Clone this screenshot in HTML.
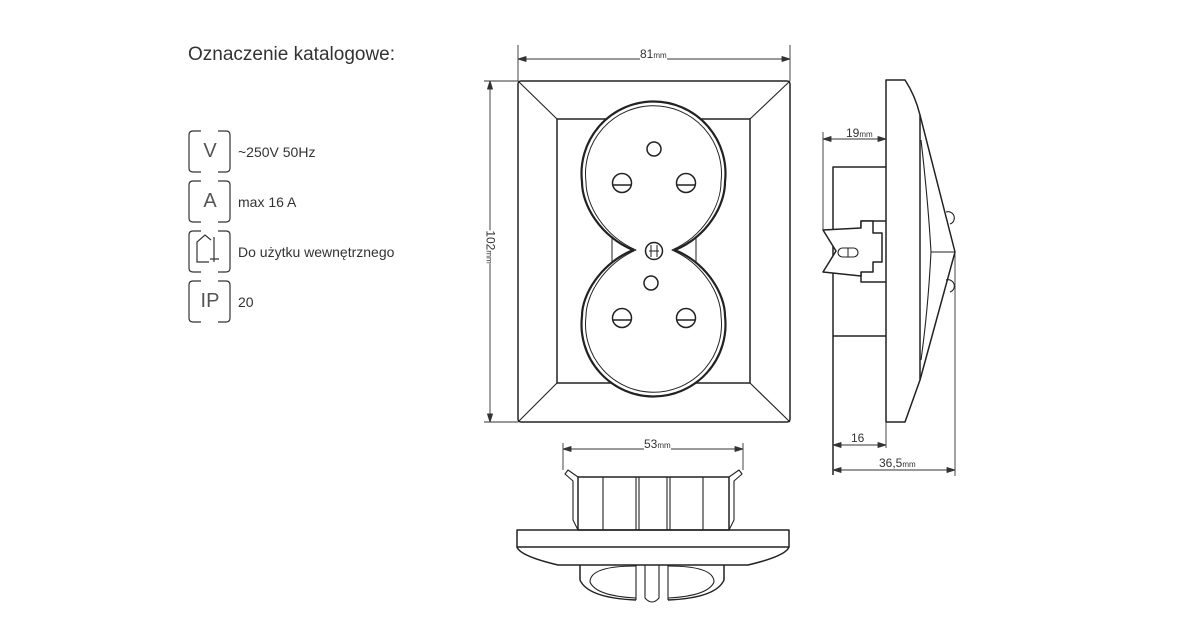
<!DOCTYPE html>
<html><head><meta charset="utf-8"><style>
html,body{margin:0;padding:0;background:#fff;}
body{width:1200px;height:630px;overflow:hidden;position:relative;font-family:"Liberation Sans",sans-serif;color:#333;}
.t{position:absolute;white-space:nowrap;}
</style></head><body>
<svg width="1200" height="630" style="position:absolute;left:0;top:0" xmlns="http://www.w3.org/2000/svg">
<g fill="none" stroke="#444" stroke-width="1.3">
<g id="b">
<path d="M201,131 H193 Q189,131 189,135 V168 Q189,172 193,172 H201 M218,131 H226 Q230,131 230,135 V168 Q230,172 226,172 H218" stroke="#333" stroke-width="1.2"/>
</g>
<use href="#b" y="50"/><use href="#b" y="100"/><use href="#b" y="150"/>
<path d="M197,253 V242 L205,235 L211,240 M214,237 V262 M197,253 V262 H209 M210,259 H219" stroke="#333" stroke-width="1.2"/>
</g>
<g fill="none" stroke="#222" stroke-width="1.5" stroke-linejoin="round">
<rect x="518" y="81" width="272" height="341" rx="3"/>
<rect x="557" y="119" width="193" height="264"/>
<path d="M518,81 L557,119 M790,81 L750,119 M518,422 L557,383 M790,422 L750,383" stroke-width="1.1"/>
<path d="M633,250 C600,236 582,205 582,182 A72,72 0 1 1 725,182 C725,205 708,236 675,250 C708,264 725,295 725,316 A72,72 0 1 1 582,316 C582,295 600,264 633,250 Z" fill="#fff" stroke-width="2.2"/>
<path d="M636,250 C604,236 586,205 586,182 A68,68 0 1 1 721,182 C721,205 704,236 672,250 C704,264 721,295 721,316 A68,68 0 1 1 586,316 C586,295 604,264 636,250 Z" stroke-width="1"/>
<path d="M612,236 V262 M696,236 V262" stroke-width="1"/>
<circle cx="654" cy="149" r="7"/>
<circle cx="622" cy="183" r="9.5"/><path d="M613,185 H631"/>
<circle cx="686" cy="183" r="9.5"/><path d="M677,185 H695"/>
<circle cx="651" cy="283" r="7"/>
<circle cx="622" cy="318" r="9.5"/><path d="M613,320 H631"/>
<circle cx="686" cy="318" r="9.5"/><path d="M677,320 H695"/>
<circle cx="654" cy="251" r="8.5"/><path d="M651,245 V257 M657,245 V257 M649,251 H659" stroke-width="1"/>
<g stroke-width="0.9" stroke="#333">
<path d="M518,45 V81 M790,45 V81 M518,59 H790"/>
<path d="M484,81 H518 M484,422 H518 M490,81 V422"/>
<path d="M518,59 l8,-2.5 v5 z M790,59 l-8,-2.5 v5 z M490,81 l-2.5,8 h5 z M490,422 l-2.5,-8 h5 z" fill="#333"/>
</g>
<path d="M886,80 H905 Q915,95 920,115 V380 L905,422 H886 Z"/>
<path d="M920,115 L955,252 L920,380"/>
<path d="M921,140 Q928,200 931,252 Q928,310 921,360 M931,252 H955" stroke-width="1.1"/>
<path d="M946,212 a5,5 0 0 1 4,12 M946,280 a5,5 0 0 1 4,12" stroke-width="1.1"/>
<path d="M886,167 H833 V475 M833,336 H886" />
<path d="M886,221 H861 V282 H886" />
<path d="M823,230 L861,228 V221 H873 V233 H882 V262 H873 V272 H861 V276 L823,272 L836,251 Z" fill="#fff"/>
<rect x="838" y="248" width="20" height="9" rx="4.5" stroke-width="1.1"/>
<path d="M848,248 V257" stroke-width="1"/>
<g stroke-width="0.9" stroke="#333">
<path d="M823,132 V230 M823,139 H886 M886,422 V448 M833,445 H886 M833,470 H955 M955,252 V476"/>
<path d="M823,139 l8,-2.5 v5 z M886,139 l-8,-2.5 v5 z M833,445 l8,-2.5 v5 z M886,445 l-8,-2.5 v5 z M833,470 l8,-2.5 v5 z M955,470 l-8,-2.5 v5 z" fill="#333"/>
</g>
<g stroke-width="0.9" stroke="#333">
<path d="M563,443 V470 M743,443 V470 M563,449 H743"/>
<path d="M563,449 l8,-2.5 v5 z M743,449 l-8,-2.5 v5 z" fill="#333"/>
</g>
<rect x="578" y="477" width="151" height="53"/>
<path d="M603,477 V530 M636,477 V530 M639,477 V530 M667,477 V530 M670,477 V530 M703,477 V530" stroke-width="1.1"/>
<path d="M578,477 L568,470 L565,474 L573,481 V520 L578,530 M729,477 L739,470 L742,474 L734,481 V520 L729,530" stroke-width="1.1"/>
<rect x="517" y="530" width="272" height="17"/>
<path d="M517,547 Q520,556 558,565 H748 Q786,556 789,547"/>
<path d="M580,565 V580 Q588,598 636,600 M724,565 V580 Q716,598 668,600"/>
<path d="M636,566 Q590,566 590,582 Q596,596 636,598 M668,566 Q714,566 714,582 Q708,596 668,598" stroke-width="1.1"/>
<path d="M636,565 V600 M668,565 V600 M645,565 V598 Q652,606 659,598 V565" stroke-width="1.1"/>
</g>
</svg>
<div class="t" style="left:188px;top:44px;font-size:19px;color:#333">Oznaczenie katalogowe:</div>
<div class="t" style="left:189px;top:140px;width:42px;text-align:center;font-size:20px;color:#555">V</div>
<div class="t" style="left:189px;top:190px;width:42px;text-align:center;font-size:20px;color:#555">A</div>
<div class="t" style="left:189px;top:290px;width:42px;text-align:center;font-size:20px;color:#555">IP</div>
<div class="t" style="left:238px;top:144px;font-size:14px">~250V 50Hz</div>
<div class="t" style="left:238px;top:194px;font-size:14px">max 16 A</div>
<div class="t" style="left:238px;top:244px;font-size:14px">Do użytku wewnętrznego</div>
<div class="t" style="left:238px;top:294px;font-size:14px">20</div>
<div class="t" style="left:640px;top:47px;font-size:12px;color:#333;background:#fff">81<span style="font-size:8px">mm</span></div>
<div class="t" style="left:474px;top:240px;font-size:12px;color:#333;transform:rotate(90deg);transform-origin:center;background:#fff">102<span style="font-size:8px">mm</span></div>
<div class="t" style="left:846px;top:126px;font-size:12px;color:#333">19<span style="font-size:8px">mm</span></div>
<div class="t" style="left:851px;top:431px;font-size:12px;color:#333">16</div>
<div class="t" style="left:879px;top:456px;font-size:12px;color:#333">36,5<span style="font-size:8px">mm</span></div>
<div class="t" style="left:644px;top:437px;font-size:12px;color:#333;background:#fff">53<span style="font-size:8px">mm</span></div>
</body></html>
